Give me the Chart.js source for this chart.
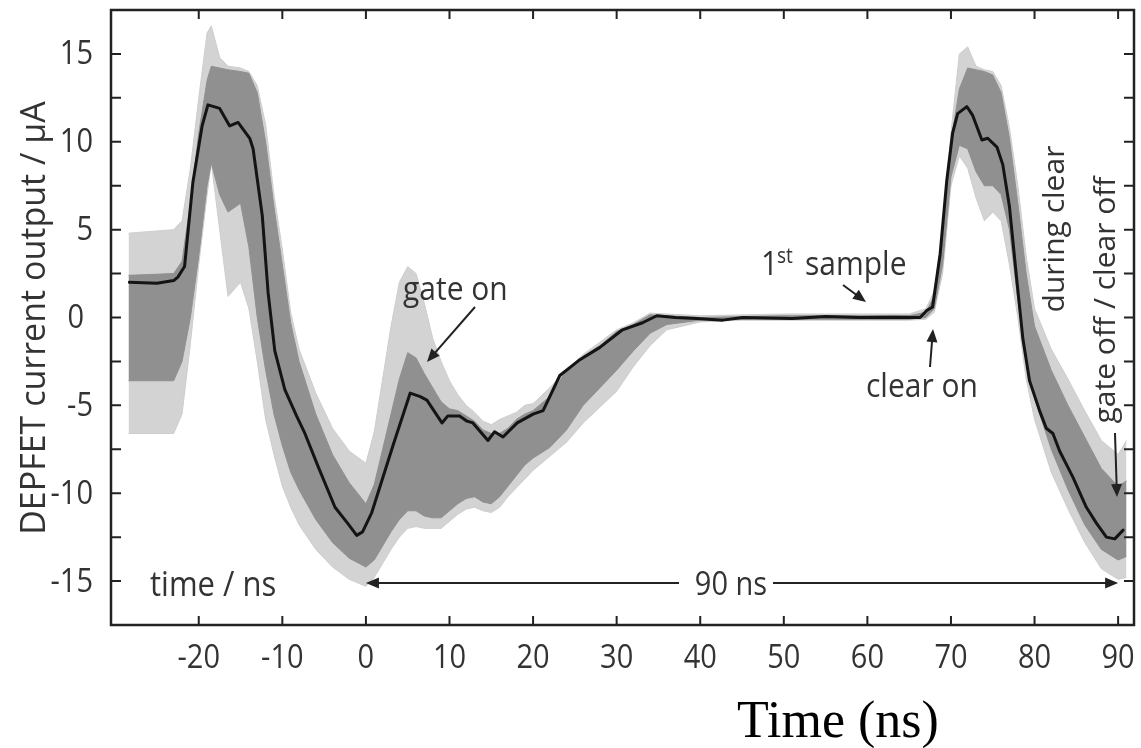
<!DOCTYPE html>
<html><head><meta charset="utf-8">
<script src="https://cdn.jsdelivr.net/npm/chart.js@4.4.1/dist/chart.umd.min.js"></script>
<style>html,body{margin:0;padding:0;background:#fff;}#wrap{width:1141px;height:748px;position:relative;}</style>
</head><body><div id="wrap"><canvas id="c"></canvas></div>
<script>
// ---- tick values ----
const xTicks = [-20,-10,0,10,20,30,40,50,60,70,80,90];
const yTicks = [-15,-10,-5,0,5,10,15];
const yTickMarks = [-15,-12.5,-10,-7.5,-5,-2.5,0,2.5,5,7.5,10,12.5,15];

// ---- mean trace (black) ----
const meanTime = [-28.3,-25,-23,-22.5,-21.7,-20.7,-19.6,-18.9,-17.5,-16.3,-15.3,-13.9,-13.5,-12.4,-11.7,-10.9,-9.7,-8.3,-7.3,-5.7,-3.7,-2.2,-1.1,-0.4,0.7,3.3,5.3,6.5,7.3,9.1,9.8,11.2,12.1,12.8,14.6,15.4,16.4,18.1,20.0,21.2,23.2,25.6,28,30.7,33.1,34.8,37,39.6,42.7,45.1,51,55,59,63,66.3,67.1,67.8,68.7,69.5,70.2,70.8,71.9,72.6,73.7,74.4,75.5,76.2,77,77.8,78.6,79.4,80.6,81.4,82.2,83,84.6,86.2,87.4,88.6,89.6,90.6];
const meanCurrent = [2.0,1.95,2.1,2.3,2.9,7.7,10.9,12.1,11.9,10.9,11.1,10.2,9.6,5.8,1.4,-1.9,-4.1,-5.6,-6.6,-8.5,-10.8,-11.7,-12.4,-12.2,-11.1,-7.2,-4.3,-4.5,-4.7,-6.0,-5.6,-5.6,-5.9,-6.0,-7.0,-6.5,-6.8,-6.0,-5.5,-5.3,-3.3,-2.4,-1.7,-0.7,-0.3,0.1,0.0,-0.05,-0.15,0.0,-0.05,0.05,0.0,0.02,0.0,0.4,0.6,3.6,7.8,10.5,11.6,12.0,11.5,10.1,10.2,9.7,8.7,6.3,2.5,-1.2,-3.6,-5.3,-6.3,-6.6,-7.6,-9.1,-10.8,-11.7,-12.5,-12.6,-12.1];

// ---- spread of the individual traces (grey band) ----
const bandTime = [-28.4,-23,-22,-21,-20,-19,-18.5,-17.5,-16.5,-15,-14,-13,-12,-11,-10,-9,-8,-6,-4,-2,0,1,2,3,4,5,6,7,8,9,10,11,12,13,14,15,16,17,18,19,20,22,24,26,28,30,32,34,36,40,45,50,55,60,65,67,68,69,70,71,72,73,74,75,76,77,78,79,80,82,84,86,88,90,91];
const bandLightHigh = [4.8,5.0,5.5,8.5,12.5,16.2,16.6,14.8,14.3,14.2,14.0,13.2,11.0,7.0,3.9,0.3,-1.8,-4.3,-6.3,-7.6,-8.3,-6.5,-3.5,-0.5,2.0,2.9,2.5,0.8,-1.2,-2.5,-3.6,-4.4,-5.0,-5.4,-5.9,-6.1,-5.8,-5.6,-5.4,-5.0,-4.9,-4.0,-3.0,-2.1,-1.4,-0.7,-0.3,0.25,0.2,0.1,0.15,0.2,0.2,0.2,0.2,0.5,1.5,5.0,10.5,15.0,15.4,14.3,14.1,14.0,13.2,10.8,7.5,3.5,0.5,-1.8,-3.5,-5.3,-7.0,-7.8,-7.0];
const bandDenseHigh = [2.4,2.5,3.2,6.5,10.5,13.5,14.3,14.2,14.1,14.0,13.9,12.8,10.0,6.3,3.0,-0.3,-2.5,-5.5,-7.8,-9.4,-10.6,-9.5,-7.5,-5.5,-3.5,-2.0,-2.3,-3.2,-4.0,-4.8,-5.2,-5.3,-5.6,-5.9,-6.4,-6.6,-6.6,-6.3,-5.8,-5.5,-5.3,-4.5,-3.0,-2.2,-1.6,-0.8,-0.4,0.15,0.1,0.0,0.05,0.1,0.1,0.1,0.1,0.3,1.2,4.5,10.0,13.0,14.2,14.1,14.0,13.8,12.8,10.2,6.5,2.5,-0.5,-3.0,-5.0,-6.8,-8.6,-9.6,-9.3];
const bandDenseLow = [-3.6,-3.6,-2.5,0.0,3.5,7.5,8.8,7.0,6.0,6.5,4.0,0.0,-3.0,-5.5,-7.3,-8.8,-9.8,-11.5,-12.8,-13.7,-14.2,-13.8,-13.0,-12.2,-11.5,-11.0,-11.0,-11.3,-11.4,-11.4,-11.0,-10.6,-10.3,-10.2,-10.5,-10.6,-10.2,-9.6,-9.0,-8.4,-8.0,-7.4,-6.4,-5.0,-4.0,-3.0,-1.9,-0.9,-0.4,-0.15,-0.1,-0.1,-0.1,-0.1,-0.1,0.0,0.5,3.0,8.0,9.8,9.6,8.3,7.5,7.5,7.0,5.0,1.0,-2.3,-4.6,-7.5,-9.8,-11.8,-13.2,-13.8,-13.6];
const bandLightLow = [-6.6,-6.6,-5.5,-1.5,3.0,7.0,8.8,5.0,1.2,2.0,0.5,-2.5,-5.8,-7.8,-9.6,-10.8,-11.8,-13.2,-14.2,-14.9,-15.3,-14.8,-14.0,-13.2,-12.5,-12.0,-11.9,-12.0,-12.0,-12.0,-11.6,-11.2,-10.9,-10.8,-11.0,-11.1,-10.8,-10.2,-9.7,-9.2,-8.7,-7.9,-7.1,-6.0,-5.1,-4.2,-2.8,-1.6,-0.7,-0.25,-0.15,-0.15,-0.15,-0.15,-0.15,-0.1,0.3,2.5,7.5,9.2,8.5,6.8,5.5,6.0,5.5,3.0,0.0,-3.5,-5.8,-8.8,-10.9,-12.8,-14.3,-14.9,-14.8];

const pts = (xs, ys) => xs.map((x, i) => ({x: x, y: ys[i]}));

const TXT = '#333';
function txt(ctx, s, x, y, o) {
  ctx.save();
  ctx.translate(x, y);
  if (o.rot) ctx.rotate(o.rot);
  ctx.scale(o.sx || 1, o.sy || 1);
  ctx.font = (o.font || ((o.size || 30) + 'px "Open Sans"'));
  ctx.fillStyle = o.color || TXT;
  ctx.textAlign = o.align || 'left';
  ctx.textBaseline = o.base || 'alphabetic';
  ctx.fillText(s, 0, 0);
  ctx.restore();
}
function arrow(ctx, x1, y1, x2, y2) {
  const ang = Math.atan2(y2 - y1, x2 - x1), L = 13, W = 5.5;
  ctx.save();
  ctx.strokeStyle = '#222'; ctx.fillStyle = '#222'; ctx.lineWidth = 2;
  ctx.beginPath(); ctx.moveTo(x1, y1);
  ctx.lineTo(x2 - Math.cos(ang) * L * 0.8, y2 - Math.sin(ang) * L * 0.8); ctx.stroke();
  ctx.beginPath(); ctx.moveTo(x2, y2);
  ctx.lineTo(x2 - Math.cos(ang) * L - Math.sin(ang) * W, y2 - Math.sin(ang) * L + Math.cos(ang) * W);
  ctx.lineTo(x2 - Math.cos(ang) * L + Math.sin(ang) * W, y2 - Math.sin(ang) * L - Math.cos(ang) * W);
  ctx.closePath(); ctx.fill();
  ctx.restore();
}

const decor = {
  id: 'decor',
  afterDraw(chart) {
    const {ctx, chartArea: a, scales: {x, y}} = chart;
    ctx.save();
    ctx.strokeStyle = '#222'; ctx.lineWidth = 2.5;
    ctx.strokeRect(a.left, a.top, a.right - a.left, a.bottom - a.top);
    ctx.lineWidth = 2;
    ctx.beginPath();
    xTicks.forEach(v => {
      const px = x.getPixelForValue(v);
      ctx.moveTo(px, a.bottom); ctx.lineTo(px, a.bottom - 9);
      ctx.moveTo(px, a.top); ctx.lineTo(px, a.top + 9);
    });
    yTickMarks.forEach(v => {
      const py = y.getPixelForValue(v);
      ctx.moveTo(a.left, py); ctx.lineTo(a.left + 10, py);
      ctx.moveTo(a.right, py); ctx.lineTo(a.right - 10, py);
    });
    ctx.stroke();
    ctx.restore();

    xTicks.forEach(v => txt(ctx, String(v), x.getPixelForValue(v), a.bottom + 33, {size: 29, sy: 1.15, align: 'center', base: 'middle'}));
    yTicks.forEach(v => txt(ctx, String(v), a.left - 18 - (v === 0 ? 9 : 0), y.getPixelForValue(v) + 1, {size: 29, sy: 1.15, align: 'right', base: 'middle'}));

    txt(ctx, 'DEPFET current output / µA', 45, 318, {size: 34, rot: -Math.PI / 2, align: 'center'});
    txt(ctx, 'Time (ns)', 838, 737, {font: '52px "Liberation Serif"', color: '#000', align: 'center'});

    const yb = y.getPixelForValue(-15);
    txt(ctx, 'time / ns', 150, 596, {size: 31, sy: 1.1});
    txt(ctx, '90 ns', 731, 595, {size: 29, sy: 1.1, align: 'center'});
    arrow(ctx, 679, yb + 2, x.getPixelForValue(0), yb + 2);
    arrow(ctx, 773, yb + 2, x.getPixelForValue(90), yb + 2);

    txt(ctx, 'gate on', 403, 300, {size: 30, sy: 1.1});
    arrow(ctx, 475, 307, 427, 362);

    txt(ctx, '1', 761, 275, {size: 30, sy: 1.1});
    txt(ctx, 'st', 777, 263, {size: 19, sy: 1.1});
    txt(ctx, 'sample', 805, 275, {size: 30, sy: 1.1});
    arrow(ctx, 843, 285, 866, 302);

    txt(ctx, 'clear on', 866, 397, {size: 30, sy: 1.1});
    arrow(ctx, 930, 367, 933, 329);

    txt(ctx, 'during clear', 1064, 229, {size: 30, rot: -Math.PI / 2, align: 'center'});
    txt(ctx, 'gate off / clear off', 1115, 300, {size: 30, rot: -Math.PI / 2, align: 'center'});
    arrow(ctx, 1115, 433, 1117, 497);
  }
};

new Chart(document.getElementById('c'), {
  type: 'line',
  data: {
    datasets: [
      {data: pts(meanTime, meanCurrent), borderColor: '#141414', borderWidth: 3, borderJoinStyle: 'round', borderCapStyle: 'round', pointRadius: 0, tension: 0, fill: false, order: 0},
      {data: pts(bandTime, bandDenseLow), borderColor: '#909090', borderWidth: 1, pointRadius: 0, tension: 0, fill: false, order: 1},
      {data: pts(bandTime, bandDenseHigh), borderColor: '#909090', borderWidth: 1, pointRadius: 0, tension: 0, fill: {target: 1}, backgroundColor: '#909090', order: 1},
      {data: pts(bandTime, bandLightLow), borderColor: '#cdcdcd', borderWidth: 1, pointRadius: 0, tension: 0, fill: false, order: 2},
      {data: pts(bandTime, bandLightHigh), borderColor: '#cdcdcd', borderWidth: 1, pointRadius: 0, tension: 0, fill: {target: 3}, backgroundColor: '#d3d3d3', order: 2}
    ]
  },
  options: {
    responsive: true, maintainAspectRatio: false, animation: false,
    layout: {padding: {left: 111, right: 7, top: 10, bottom: 123}},
    plugins: {legend: {display: false}, tooltip: {enabled: false}},
    scales: {
      x: {type: 'linear', min: -30.5, max: 91.9, display: false},
      y: {type: 'linear', min: -17.5, max: 17.5, display: false}
    }
  },
  plugins: [decor]
});
</script></body></html>
